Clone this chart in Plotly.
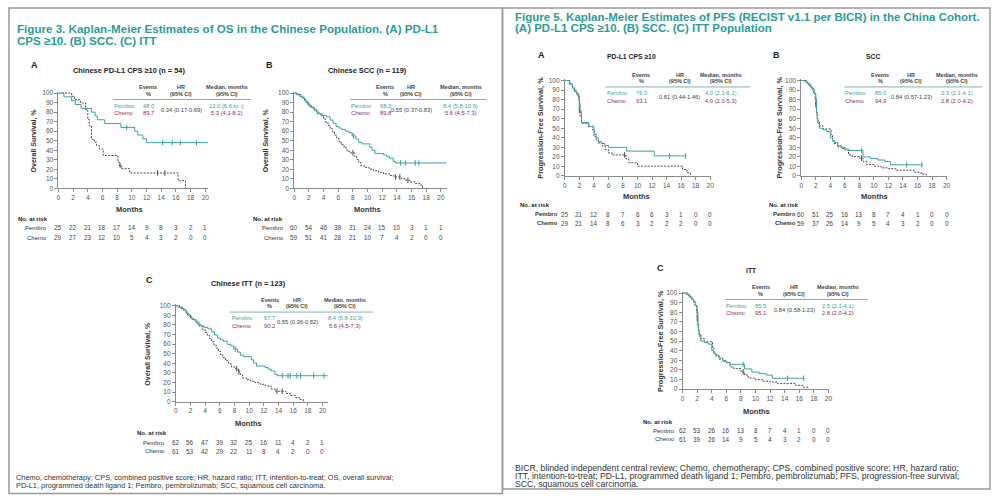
import numpy as np
import plotly.graph_objects as go

W, H = 1000, 499
FONT = "Liberation Sans, Arial, sans-serif"
TEAL = "#3aa39c"
TITLE_TEAL = "#2a9d96"
CHEMO_LINE = "#4d4d4d"
CHEMO_TXT = "#8a2c5f"
DARK = "#333333"

months = list(range(0, 21, 2))
y_ticks = list(range(0, 101, 10))

# ---------------- Figure 3: OS ----------------
osA_pem_t = [0, 0.75, 1.8, 2.3, 3.1, 4.5, 5.0, 5.3, 6.3, 8.5, 10.4, 10.8, 11.5, 12.0, 20.3]
osA_pem_s = [100, 96, 92, 88, 84, 80, 76, 72, 68, 64, 60, 56, 52, 48, 48]
osA_pem_c = [9.3, 14.2, 15.5, 16.6, 18.8]
osA_che_t = [0, 1.8, 2.2, 3.0, 3.7, 4.0, 4.2, 4.5, 4.9, 5.2, 5.6, 6.1, 8.1, 8.3, 8.6, 9.7, 16.3, 17.3]
osA_che_s = [100, 96.6, 93.1, 89.7, 82.8, 72.4, 65.5, 51.7, 48.3, 44.8, 41.4, 34.5, 27.6, 24.1, 20.7, 16.2, 8.1, 0]
osA_che_c = [8.4, 13.5, 14.5]

osB_pem_t = [0, 0.3, 0.7, 1.0, 1.4, 1.8, 2.2, 2.6, 3.0, 3.4, 3.8, 4.4, 4.9, 5.3, 5.7, 6.1, 6.5, 7.0, 7.5, 7.9,
             8.4, 8.8, 9.2, 10.3, 10.6, 11.0, 12.2, 12.6, 13.0, 13.5, 13.8, 20.8]
osB_pem_s = [100, 98.3, 96.7, 95.0, 91.7, 88.3, 85.0, 83.3, 80.0, 78.3, 76.7, 75.0, 71.7, 68.3, 65.0, 63.3, 61.7,
             60.0, 58.3, 55.0, 51.7, 48.3, 46.7, 43.3, 40.0, 36.7, 35.0, 33.3, 31.7, 28.3, 26.7, 26.7]
osB_pem_c = [8.1, 14.5, 15.2, 16.5, 17.0]
osB_che_t = [0, 0.5, 1.0, 1.3, 1.6, 2.0, 2.4, 2.8, 3.2, 3.6, 4.0, 4.3, 4.6, 4.9, 5.2, 5.5, 5.8, 6.1, 6.4, 6.8,
             7.2, 7.6, 8.2, 8.5, 8.8, 9.1, 9.6, 10.2, 10.8, 11.5, 12.2, 13.0, 13.6, 14.6, 15.2, 15.8, 16.5, 17.2, 17.5]
osB_che_s = [100, 98.3, 96.6, 93.2, 89.8, 86.4, 84.7, 81.4, 78.0, 76.3, 72.9, 69.5, 66.1, 62.7, 59.3, 55.9, 52.5,
             49.2, 45.8, 42.4, 39.0, 37.3, 33.9, 30.5, 27.1, 23.7, 22.0, 20.3, 18.6, 16.9, 15.3, 13.6, 11.9, 10.2,
             8.5, 6.8, 5.1, 3.4, 0]
osB_che_c = [8.0, 13.8, 14.4, 15.5]

osC_pem_t = [0, 0.3, 0.7, 1.0, 1.4, 1.8, 2.2, 2.6, 3.0, 3.4, 3.8, 4.4, 4.9, 5.3, 5.7, 6.1, 6.5, 7.0, 7.5, 7.9,
             8.4, 8.8, 9.2, 10.3, 10.6, 11.0, 12.2, 12.6, 13.0, 13.5, 13.8, 20.7]
osC_pem_s = [100, 98.4, 96.8, 95.2, 91.9, 88.7, 85.5, 83.9, 80.6, 79.0, 77.4, 75.8, 72.6, 69.4, 66.1, 64.5, 62.9,
             59.7, 58.1, 54.8, 51.6, 48.4, 46.8, 43.5, 40.3, 37.1, 35.5, 33.9, 31.9, 28.6, 27.0, 27.0]
osC_pem_c = [8.1, 14.5, 15.3, 15.6, 16.5, 17.0, 18.8, 20.2]
osC_che_t = [0, 0.5, 1.0, 1.3, 1.6, 2.0, 2.4, 2.8, 3.2, 3.6, 4.0, 4.3, 4.6, 4.9, 5.2, 5.5, 5.8, 6.1, 6.4, 6.8,
             7.2, 7.6, 8.1, 8.5, 8.8, 9.1, 9.6, 10.2, 10.8, 11.5, 12.2, 13.0, 13.6, 15.0, 15.6, 16.3, 16.9, 17.4]
osC_che_s = [100, 98.4, 96.7, 93.4, 90.2, 86.9, 85.2, 82.0, 78.7, 75.4, 72.1, 68.9, 65.6, 62.3, 59.0, 55.7, 52.5,
             49.2, 45.9, 42.6, 39.3, 36.1, 34.4, 31.1, 27.9, 24.6, 23.0, 21.3, 19.7, 18.0, 16.4, 13.1, 10.8, 8.6,
             6.5, 4.3, 2.2, 0]
osC_che_c = [8.3, 8.6, 13.8, 14.5]

# ---------------- Figure 5: PFS ----------------
pfsA_pem_t = [0, 0.6, 1.05, 1.3, 1.7, 2.0, 2.1, 2.3, 3.3, 4.0, 4.1, 4.3, 4.6, 5.0, 5.5, 6.0, 8.5, 12.3, 16.7]
pfsA_pem_s = [100, 96, 92, 88, 84, 76, 68, 56, 52, 48, 44, 40, 36, 34, 32, 30, 26, 21, 21]
pfsA_pem_c = [2.0, 14.4, 16.6]
pfsA_che_t = [0, 0.7, 1.0, 1.3, 1.6, 1.9, 2.0, 2.1, 2.3, 3.2, 3.8, 4.0, 4.3, 4.6, 5.2, 5.6, 6.0, 6.5, 8.4, 8.8,
              10.0, 16.2, 16.8, 17.3]
pfsA_che_s = [100, 96.6, 93.1, 89.7, 86.2, 79.3, 69.0, 62.1, 55.2, 51.7, 48.3, 41.4, 37.9, 34.5, 31.0, 27.6, 24.1,
              22.0, 17.9, 13.8, 10.3, 6.9, 3.4, 0]
pfsA_che_c = [2.0, 8.2]

pfsB_pem_t = [0, 0.5, 0.8, 1.0, 1.2, 1.5, 1.8, 2.0, 2.1, 2.2, 2.3, 2.5, 3.0, 3.5, 4.0, 4.3, 4.6, 5.0, 5.5, 6.0,
              6.5, 8.5, 9.5, 10.5, 11.5, 12.3, 16.7]
pfsB_pem_s = [100, 98.3, 96.7, 95.0, 93.3, 90.0, 86.7, 80.0, 66.7, 60.0, 55.0, 50.0, 48.3, 46.7, 40.0, 36.7, 35.0,
              31.7, 30.0, 28.3, 26.7, 20.0, 18.3, 16.7, 15.0, 11.7, 11.7]
pfsB_pem_c = [2.0, 8.3, 14.5, 16.6]
pfsB_che_t = [0, 0.8, 1.0, 1.3, 1.5, 1.7, 1.9, 2.0, 2.1, 2.2, 2.5, 3.0, 4.1, 4.3, 4.5, 5.0, 5.5, 6.0, 6.5, 7.0,
              8.0, 8.5, 9.0, 10.0, 11.0, 12.0, 13.0, 15.5, 16.5, 17.2]
pfsB_che_s = [100, 98.3, 96.6, 93.2, 91.5, 86.4, 81.4, 74.6, 64.4, 57.6, 52.5, 49.2, 42.4, 37.3, 33.9, 30.5, 28.8,
              27.1, 22.0, 20.3, 18.6, 15.3, 11.9, 10.2, 8.5, 7.6, 6.0, 4.0, 2.0, 0]
pfsB_che_c = [2.0, 8.3]

pfsC_pem_t = [0, 0.5, 0.8, 1.0, 1.2, 1.5, 1.8, 2.0, 2.1, 2.2, 2.3, 2.5, 3.0, 3.5, 4.0, 4.3, 4.6, 5.0, 5.5, 6.0,
              6.5, 8.5, 9.5, 10.5, 11.5, 12.3, 16.7]
pfsC_pem_s = [100, 98.4, 96.8, 95.2, 93.5, 90.3, 87.1, 80.6, 67.7, 61.3, 54.8, 50.0, 48.4, 46.8, 40.3, 37.1, 35.5,
              32.3, 29.0, 27.4, 25.8, 21.0, 17.7, 16.1, 14.5, 11.3, 11.3]
pfsC_pem_c = [2.0, 8.3, 14.4, 16.6]
pfsC_che_t = [0, 0.8, 1.0, 1.3, 1.5, 1.7, 1.9, 2.0, 2.1, 2.2, 2.5, 3.0, 4.1, 4.3, 4.5, 5.0, 5.5, 6.0, 6.5, 7.0,
              8.0, 8.5, 9.0, 10.0, 11.0, 12.0, 13.0, 15.5, 16.5, 17.2]
pfsC_che_s = [100, 98.4, 96.7, 93.4, 91.8, 86.9, 82.0, 73.8, 63.9, 57.4, 52.5, 49.2, 42.6, 37.7, 34.4, 31.1, 29.5,
              27.9, 23.0, 21.3, 18.0, 14.8, 11.5, 9.8, 8.2, 7.4, 5.7, 3.9, 2.0, 0]
pfsC_che_c = [2.0, 8.3]

# ---------------- Numbers at risk ----------------
osA_risk_pem = [25, 22, 21, 18, 17, 14, 9, 8, 3, 2, 1]
osA_risk_che = [29, 27, 23, 12, 10, 5, 4, 3, 2, 0, 0]
osB_risk_pem = [60, 54, 46, 38, 31, 24, 15, 10, 3, 1, 1]
osB_risk_che = [59, 51, 41, 28, 21, 10, 7, 4, 2, 0, 0]
osC_risk_pem = [62, 56, 47, 39, 32, 25, 16, 11, 4, 2, 1]
osC_risk_che = [61, 53, 42, 29, 22, 11, 8, 4, 2, 0, 0]
pfsA_risk_pem = [25, 21, 12, 8, 7, 6, 6, 3, 1, 0, 0]
pfsA_risk_che = [29, 21, 14, 8, 6, 3, 2, 2, 2, 0, 0]
pfsB_risk_pem = [60, 51, 25, 16, 13, 8, 7, 4, 1, 0, 0]
pfsB_risk_che = [59, 37, 26, 14, 9, 5, 4, 3, 2, 0, 0]
pfsC_risk_pem = [62, 53, 26, 16, 13, 8, 7, 4, 1, 0, 0]
pfsC_risk_che = [61, 39, 26, 14, 9, 5, 4, 3, 2, 0, 0]

# ---------------- Summary tables ----------------
panel_titles = ["Chinese PD-L1 CPS ≥10 (n = 54)", "Chinese SCC (n = 119)", "Chinese ITT (n = 123)",
                "PD-L1 CPS ≥10", "SCC", "ITT"]
panel_letters = ["A", "B", "C", "A", "B", "C"]
events_pem = ["48.0", "68.3", "67.7", "76.0", "85.0", "85.5"]
events_che = ["89.7", "89.8", "90.2", "93.1", "94.9", "95.1"]
hr_text = ["0.34 (0.17-0.69)", "0.55 (0.37-0.83)", "0.55 (0.36-0.82)",
           "0.81 (0.44-1.46)", "0.84 (0.57-1.23)", "0.84 (0.58-1.23)"]
median_pem = ["12.0 (6.6 to -)", "8.4 (5.8-10.9)", "8.4 (5.8-10.9)", "4.0 (2.1-6.1)", "2.3 (2.1-4.1)", "2.5 (2.1-4.1)"]
median_che = ["5.3 (4.1-8.2)", "5.6 (4.5-7.3)", "5.6 (4.5-7.3)", "4.0 (2.0-5.3)", "2.8 (2.0-4.2)", "2.8 (2.0-4.2)"]
y_labels = ["Overall Survival, %"] * 3 + ["Progression-Free Survival, %"] * 3

fig3_title = ["Figure 3. Kaplan-Meier Estimates of OS in the Chinese Population. (A) PD-L1",
              "CPS ≥10. (B) SCC. (C) ITT"]
fig5_title = ["Figure 5. Kaplan-Meier Estimates of PFS (RECIST v1.1 per BICR) in the China Cohort.",
              "(A) PD-L1 CPS ≥10. (B) SCC. (C) ITT Population"]
fig3_foot = ["Chemo, chemotherapy; CPS, combined positive score; HR, hazard ratio; ITT, intention-to-treat; OS, overall survival;",
             "PD-L1, programmed death ligand 1; Pembro, pembrolizumab; SCC, squamous cell carcinoma."]
fig5_foot = ["BICR, blinded independent central review; Chemo, chemotherapy; CPS, combined positive score; HR, hazard ratio;",
             "ITT, intention-to-treat; PD-L1, programmed death ligand 1; Pembro, pembrolizumab; PFS, progression-free survival;",
             "SCC, squamous cell carcinoma."]

curves = [
    (osA_pem_t, osA_pem_s, osA_pem_c, osA_che_t, osA_che_s, osA_che_c, osA_risk_pem, osA_risk_che),
    (osB_pem_t, osB_pem_s, osB_pem_c, osB_che_t, osB_che_s, osB_che_c, osB_risk_pem, osB_risk_che),
    (osC_pem_t, osC_pem_s, osC_pem_c, osC_che_t, osC_che_s, osC_che_c, osC_risk_pem, osC_risk_che),
    (pfsA_pem_t, pfsA_pem_s, pfsA_pem_c, pfsA_che_t, pfsA_che_s, pfsA_che_c, pfsA_risk_pem, pfsA_risk_che),
    (pfsB_pem_t, pfsB_pem_s, pfsB_pem_c, pfsB_che_t, pfsB_che_s, pfsB_che_c, pfsB_risk_pem, pfsB_risk_che),
    (pfsC_pem_t, pfsC_pem_s, pfsC_pem_c, pfsC_che_t, pfsC_che_s, pfsC_che_c, pfsC_risk_pem, pfsC_risk_che),
]

# ---------------- Layout geometry (pixels) ----------------
geom = [
    dict(x0=56.7, ppm=7.38, y0=188.3, y100=92.0, xmax=20.4, letter=(33, 64), title=(128, 69),
         cols=(147, 180, 226), hline=(112, 250), lab_x=112, ylab=(32, 140), months=(128, 210),
         nar=(15, 219), row_lab_x=46.5, rows=(228, 238), bold_rows=False),
    dict(x0=293.7, ppm=7.37, y0=188.3, y100=92.0, xmax=20.9, letter=(269, 64), title=(367, 69),
         cols=(385, 411.5, 461), hline=(350, 487), lab_x=350, ylab=(265, 140), months=(367, 210),
         nar=(251, 219), row_lab_x=284, rows=(228, 238), bold_rows=False),
    dict(x0=174.7, ppm=7.37, y0=403.7, y100=306.7, xmax=20.8, letter=(148, 281), title=(248, 284),
         cols=(269, 296.5, 345), hline=(229, 373), lab_x=230, ylab=(147, 355), months=(248, 425.7),
         nar=(135, 435), row_lab_x=164.5, rows=(445, 454), bold_rows=False),
    dict(x0=565.7, ppm=7.3, y0=175.7, y100=79.3, xmax=20.1, letter=(542.7, 53.3), title=(633, 55),
         cols=(642.5, 681, 723), hline=(606.7, 752), lab_x=607, ylab=(541.7, 127), months=(638, 196.7),
         nar=(520, 205), row_lab_x=560, rows=(214.3, 223.3), bold_rows=True),
    dict(x0=803.3, ppm=7.3, y0=175.7, y100=79.3, xmax=20.1, letter=(778, 53.3), title=(875, 55),
         cols=(882.5, 914, 960), hline=(846.7, 985), lab_x=846, ylab=(781.7, 127), months=(876.7, 196.7),
         nar=(770, 205), row_lab_x=799, rows=(214.3, 223.3), bold_rows=True),
    dict(x0=684.0, ppm=7.33, y0=391.0, y100=294.0, xmax=20.1, letter=(661.7, 268.3), title=(753.3, 271.7),
         cols=(762.5, 796, 840), hline=(726.7, 870), lab_x=727, ylab=(661.7, 342), months=(758, 413.3),
         nar=(643, 424.3), row_lab_x=677, rows=(433.3, 441.7), bold_rows=False),
]

TBL = 5.8
TBL_H = 5.5


def ann(text, x, y, size=6.0, color=DARK, bold=False, xanchor="center", angle=0, xref="paper"):
    if bold:
        text = "<b>" + text + "</b>"
    return dict(text=text, x=(x / W if xref == "paper" else x), y=1 - y / H, xref=xref, yref="paper",
                showarrow=False, xanchor=xanchor, yanchor="middle", textangle=angle, borderpad=0,
                font=dict(family=FONT, size=size, color=color))


def censor_y(t, s, cens):
    idx = np.searchsorted(np.array(t), np.array(cens), side="right") - 1
    return [s[i] for i in idx]


fig = go.Figure()
annotations = []
shapes = []
layout_axes = {}
YMAX = 101.5

for i, (g, c) in enumerate(zip(geom, curves)):
    n = i + 1
    xr = "x" if n == 1 else "x%d" % n
    yr = "y" if n == 1 else "y%d" % n
    ppp = (g["y0"] - g["y100"]) / 100.0
    axis_common = dict(showgrid=False, zeroline=False, showline=True, linecolor="#8a8a8a", linewidth=1,
                       ticks="outside", ticklen=3, tickwidth=1, tickcolor="#8a8a8a",
                       tickfont=dict(family=FONT, size=6.5, color="#555555"), fixedrange=True)
    layout_axes["xaxis" if n == 1 else "xaxis%d" % n] = dict(
        axis_common, domain=[g["x0"] / W, (g["x0"] + g["xmax"] * g["ppm"]) / W],
        range=[0, g["xmax"]], tickvals=months, anchor=yr)
    layout_axes["yaxis" if n == 1 else "yaxis%d" % n] = dict(
        axis_common, domain=[1 - g["y0"] / H, 1 - (g["y0"] - YMAX * ppp) / H],
        range=[0, YMAX], tickvals=y_ticks, anchor=xr)

    pt, ps, pc, ct, cs, cc, rp, rc = c
    fig.add_trace(go.Scatter(x=ct, y=cs, mode="lines",
                             line=dict(shape="hv", color=CHEMO_LINE, width=1, dash="2px,1.3px"),
                             xaxis=xr, yaxis=yr, showlegend=False, hoverinfo="skip"))
    fig.add_trace(go.Scatter(x=cc, y=censor_y(ct, cs, cc), mode="markers",
                             marker=dict(symbol="line-ns-open", size=4, color=CHEMO_LINE,
                                         line=dict(color=CHEMO_LINE, width=1)),
                             xaxis=xr, yaxis=yr, showlegend=False, hoverinfo="skip"))
    fig.add_trace(go.Scatter(x=pt, y=ps, mode="lines", line=dict(shape="hv", color=TEAL, width=1),
                             xaxis=xr, yaxis=yr, showlegend=False, hoverinfo="skip"))
    fig.add_trace(go.Scatter(x=pc, y=censor_y(pt, ps, pc), mode="markers",
                             marker=dict(symbol="line-ns-open", size=4, color=TEAL,
                                         line=dict(color=TEAL, width=1)),
                             xaxis=xr, yaxis=yr, showlegend=False, hoverinfo="skip"))

    annotations.append(ann(panel_letters[i], *g["letter"], size=9, color="#222", bold=True))
    annotations.append(ann(panel_titles[i], *g["title"], size=7.4 if i < 3 else 6.8, color="#222", bold=True))
    annotations.append(ann(y_labels[i], *g["ylab"], size=7 if i < 3 else 7.3, color="#333", bold=True, angle=-90))
    annotations.append(ann("Months", *g["months"], size=7.5, color="#333", bold=True))

    top = g["y100"]
    ce, chr_, cm = g["cols"]
    annotations.append(ann("Events", ce, top - 6, size=TBL_H, bold=True, color="#444"))
    annotations.append(ann("%", ce, top + 0.5, size=TBL_H, bold=True, color="#444"))
    annotations.append(ann("HR", chr_, top - 6, size=TBL_H, bold=True, color="#444"))
    annotations.append(ann("(95% CI)", chr_, top + 0.5, size=TBL_H, bold=True, color="#444"))
    annotations.append(ann("Median, months", cm, top - 6, size=TBL_H, bold=True, color="#444"))
    annotations.append(ann("(95% CI)", cm, top + 0.5, size=TBL_H, bold=True, color="#444"))
    hy = top + 6.5
    shapes.append(dict(type="line", xref="paper", yref="paper", x0=g["hline"][0] / W, x1=g["hline"][1] / W,
                       y0=1 - hy / H, y1=1 - hy / H, line=dict(color="#7fb3b0", width=1)))
    r1, r2 = top + 13, top + 20.5
    annotations.append(ann("Pembro", g["lab_x"], r1, size=TBL, color=TEAL, xanchor="left"))
    annotations.append(ann("Chemo", g["lab_x"], r2, size=TBL, color=CHEMO_TXT, xanchor="left"))
    annotations.append(ann(events_pem[i], ce, r1, size=TBL, color=TEAL))
    annotations.append(ann(events_che[i], ce, r2, size=TBL, color=CHEMO_TXT))
    annotations.append(ann(hr_text[i], chr_, (r1 + r2) / 2, size=TBL, color="#444"))
    annotations.append(ann(median_pem[i], cm, r1, size=TBL, color=TEAL))
    annotations.append(ann(median_che[i], cm, r2, size=TBL, color=CHEMO_TXT))

    annotations.append(ann("No. at risk", *g["nar"], size=6, color="#222", bold=True, xanchor="left"))
    annotations.append(ann("Pembro", g["row_lab_x"], g["rows"][0], size=6, color="#333",
                           bold=g["bold_rows"], xanchor="right"))
    annotations.append(ann("Chemo", g["row_lab_x"], g["rows"][1], size=6, color="#333",
                           bold=g["bold_rows"], xanchor="right"))
    for m, vp, vc in zip(months, rp, rc):
        annotations.append(ann(str(vp), m, g["rows"][0], size=6.3, color="#444", xref=xr))
        annotations.append(ann(str(vc), m, g["rows"][1], size=6.3, color="#444", xref=xr))

annotations.append(ann(fig3_title[0], 14, 26.7, size=11.6, color=TITLE_TEAL, bold=True, xanchor="left"))
annotations.append(ann(fig3_title[1], 14, 39.3, size=11.6, color=TITLE_TEAL, bold=True, xanchor="left"))
annotations.append(ann(fig5_title[0], 515, 15, size=11.5, color=TITLE_TEAL, bold=True, xanchor="left"))
annotations.append(ann(fig5_title[1], 515, 26.7, size=11.5, color=TITLE_TEAL, bold=True, xanchor="left"))
for k, line in enumerate(fig3_foot):
    annotations.append(ann(line, 13, 480 + 8.3 * k, size=7.4, color="#333", xanchor="left"))
for k, line in enumerate(fig5_foot):
    annotations.append(ann(line, 515, 470.7 + 8.2 * k, size=8.7, color="#333", xanchor="left"))

shapes.append(dict(type="rect", xref="paper", yref="paper", x0=7 / W, x1=503 / W, y0=1 - 496.5 / H, y1=1 - 6 / H,
                   line=dict(color="#9a9a9a", width=1.5)))
shapes.append(dict(type="rect", xref="paper", yref="paper", x0=503 / W, x1=993 / W, y0=1 - 492 / H, y1=1 - 6 / H,
                   line=dict(color="#9a9a9a", width=1.5)))

fig.update_layout(width=W, height=H, autosize=False, margin=dict(l=0, r=0, t=0, b=0),
                  paper_bgcolor="white", plot_bgcolor="white", showlegend=False,
                  annotations=annotations, shapes=shapes, **layout_axes)
fig.write_html("out.html", config={"displayModeBar": False},
               post_script="document.body.style.margin='0px';document.body.style.overflow='hidden';")
